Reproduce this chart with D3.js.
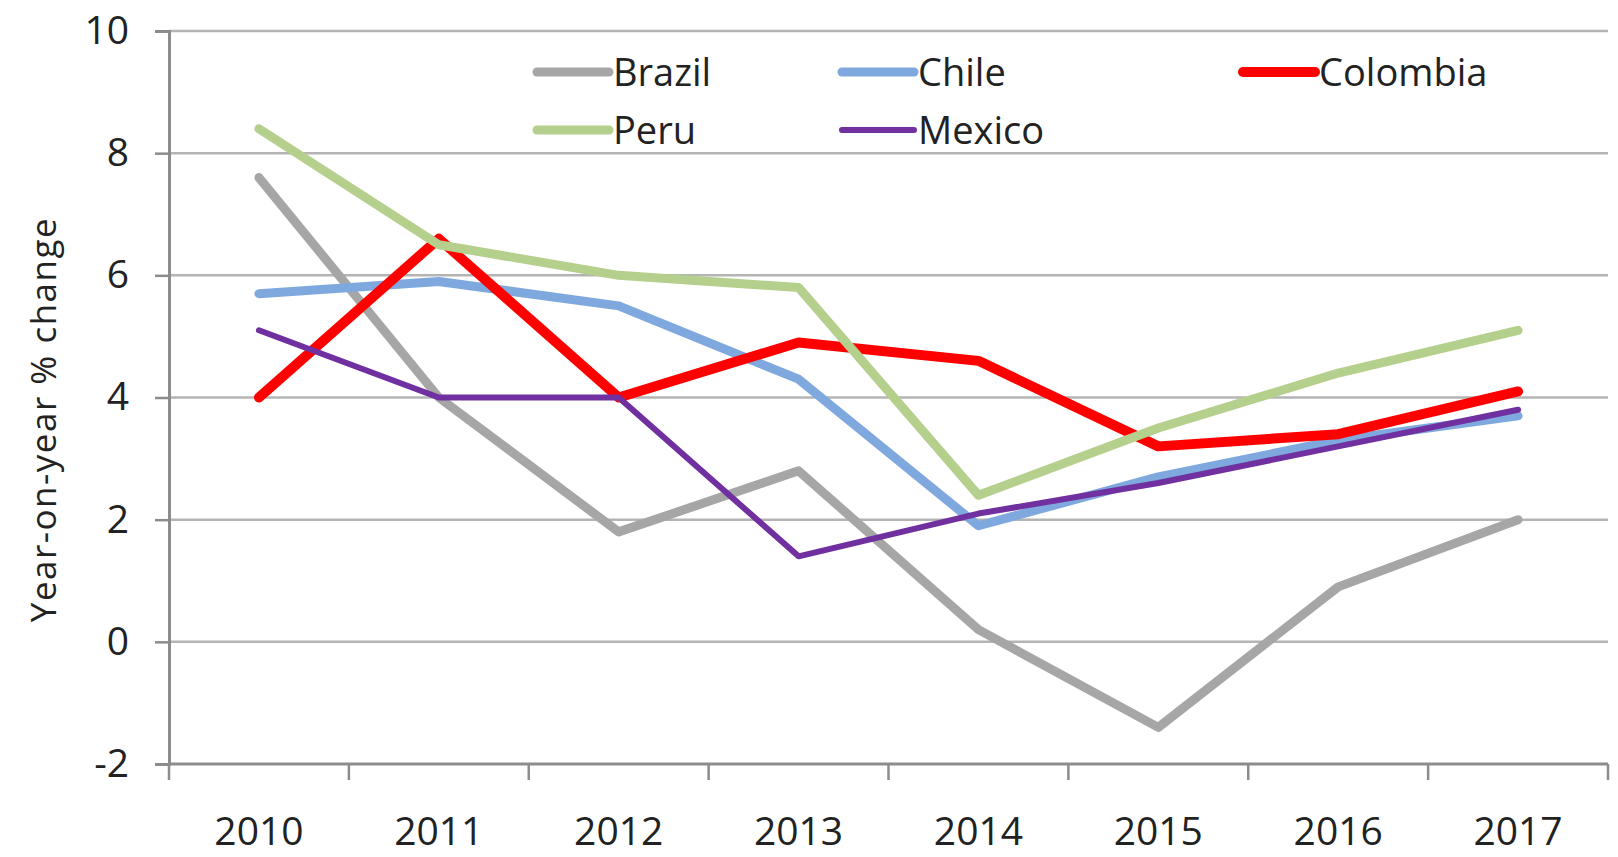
<!DOCTYPE html>
<html lang="en">
<head>
<meta charset="utf-8">
<title>Year-on-year % change</title>
<script src="https://d3js.org/d3.v7.min.js"></script>
<style>
    body { margin: 0; background: #fff; }
    svg text { font-family: "Open Sans", "Noto Sans", sans-serif; fill: #222; }
</style>
</head>
<body>
<div id="chart"></div>
<script>
var WIDTH = 1618;
var HEIGHT = 857;

// data
var years = ["2010", "2011", "2012", "2013", "2014", "2015", "2016", "2017"];
var brazil   = [7.6, 4.0, 1.8, 2.8, 0.2, -1.4, 0.9, 2.0];
var chile    = [5.7, 5.9, 5.5, 4.3, 1.9, 2.7, 3.3, 3.7];
var colombia = [4.0, 6.6, 4.0, 4.9, 4.6, 3.2, 3.4, 4.1];
var peru     = [8.4, 6.5, 6.0, 5.8, 2.4, 3.5, 4.4, 5.1];
var mexico   = [5.1, 4.0, 4.0, 1.4, 2.1, 2.6, 3.2, 3.8];
var yTicks = [-2, 0, 2, 4, 6, 8, 10];

var series = [
    {name: "Brazil",   values: brazil,   color: "#a6a6a6", width: 9},
    {name: "Chile",    values: chile,    color: "#7fa8de", width: 9},
    {name: "Colombia", values: colombia, color: "#ff0000", width: 10},
    {name: "Peru",     values: peru,     color: "#b5cf8c", width: 9},
    {name: "Mexico",   values: mexico,   color: "#7030a0", width: 6}
];

// plot box (top is a reserved window name, so prefix)
var pLeft = 169, pRight = 1608, pTop = 31, pBottom = 764;

const svg = d3.select("#chart")
    .append("svg")
    .attr("width", WIDTH)
    .attr("height", HEIGHT);

var x = d3.scaleBand().domain(years).range([pLeft, pRight]);
var y = d3.scaleLinear().domain([-2, 10]).range([pBottom, pTop]);

// gridlines
svg.append("g")
    .selectAll("line")
    .data(yTicks.filter(function(d) { return d > -2; }))
    .join("line")
    .attr("x1", pLeft)
    .attr("x2", pRight)
    .attr("y1", function(d) { return y(d); })
    .attr("y2", function(d) { return y(d); })
    .attr("stroke", "#b4b4b4")
    .attr("stroke-width", 2.5);

// y axis, plain hyphen for negatives like the original
var yAxis = svg.append("g")
    .attr("transform", "translate(" + pLeft + ",0)")
    .call(d3.axisLeft(y).tickValues(yTicks).tickSize(14).tickPadding(26)
        .tickFormat(function(d) { return String(d); }));
yAxis.select(".domain").attr("stroke", "#8c8c8c").attr("stroke-width", 3);
yAxis.selectAll(".tick line").attr("stroke", "#8c8c8c").attr("stroke-width", 2.5);
yAxis.selectAll("text")
    .attr("font-size", 39)
    .attr("fill", "#222")
    .attr("font-family", "'Open Sans', sans-serif");

// x axis: ticks at band boundaries
var xAxis = svg.append("g")
    .attr("transform", "translate(0," + pBottom + ")");
xAxis.append("line")
    .attr("x1", pLeft).attr("x2", pRight)
    .attr("stroke", "#8c8c8c").attr("stroke-width", 3);
xAxis.selectAll(".tk")
    .data(years.concat(["end"]))
    .join("line")
    .attr("class", "tk")
    .attr("x1", function(d, i) { return pLeft + i * x.step(); })
    .attr("x2", function(d, i) { return pLeft + i * x.step(); })
    .attr("y1", 0).attr("y2", 16)
    .attr("stroke", "#8c8c8c").attr("stroke-width", 2.5);
xAxis.selectAll("text")
    .data(years)
    .join("text")
    .attr("x", function(d) { return x(d) + x.bandwidth() / 2; })
    .attr("y", 81)
    .attr("text-anchor", "middle")
    .attr("font-size", 39)
    .text(function(d) { return d; });

// y axis title
svg.append("text")
    .attr("transform", "translate(56," + ((pTop + pBottom) / 2 + 22) + ") rotate(-90)")
    .attr("text-anchor", "middle")
    .attr("font-size", 35)
    .attr("letter-spacing", 1.5)
    .text("Year-on-year % change");

// lines
var line = d3.line()
    .x(function(d, i) { return x(years[i]) + x.bandwidth() / 2; })
    .y(function(d) { return y(d); });

svg.append("g")
    .selectAll("path")
    .data(series)
    .join("path")
    .attr("d", function(d) { return line(d.values); })
    .attr("fill", "none")
    .attr("stroke", function(d) { return d.color; })
    .attr("stroke-width", function(d) { return d.width; })
    .attr("stroke-linejoin", "round")
    .attr("stroke-linecap", "round");

// legend
var legendCols = [537, 842, 1243];
var legendRows = [72, 130];
var leg = svg.append("g")
    .selectAll("g")
    .data(series)
    .join("g")
    .attr("transform", function(d, i) {
        return "translate(" + legendCols[i % 3] + "," + legendRows[Math.floor(i / 3)] + ")";
    });
leg.append("line")
    .attr("x1", 0).attr("x2", 72)
    .attr("stroke", function(d) { return d.color; })
    .attr("stroke-width", function(d) { return d.width; })
    .attr("stroke-linecap", "round");
leg.append("text")
    .attr("x", 76)
    .attr("dy", "0.36em")
    .attr("font-size", 38)
    .text(function(d) { return d.name; });
</script>
</body>
</html>
